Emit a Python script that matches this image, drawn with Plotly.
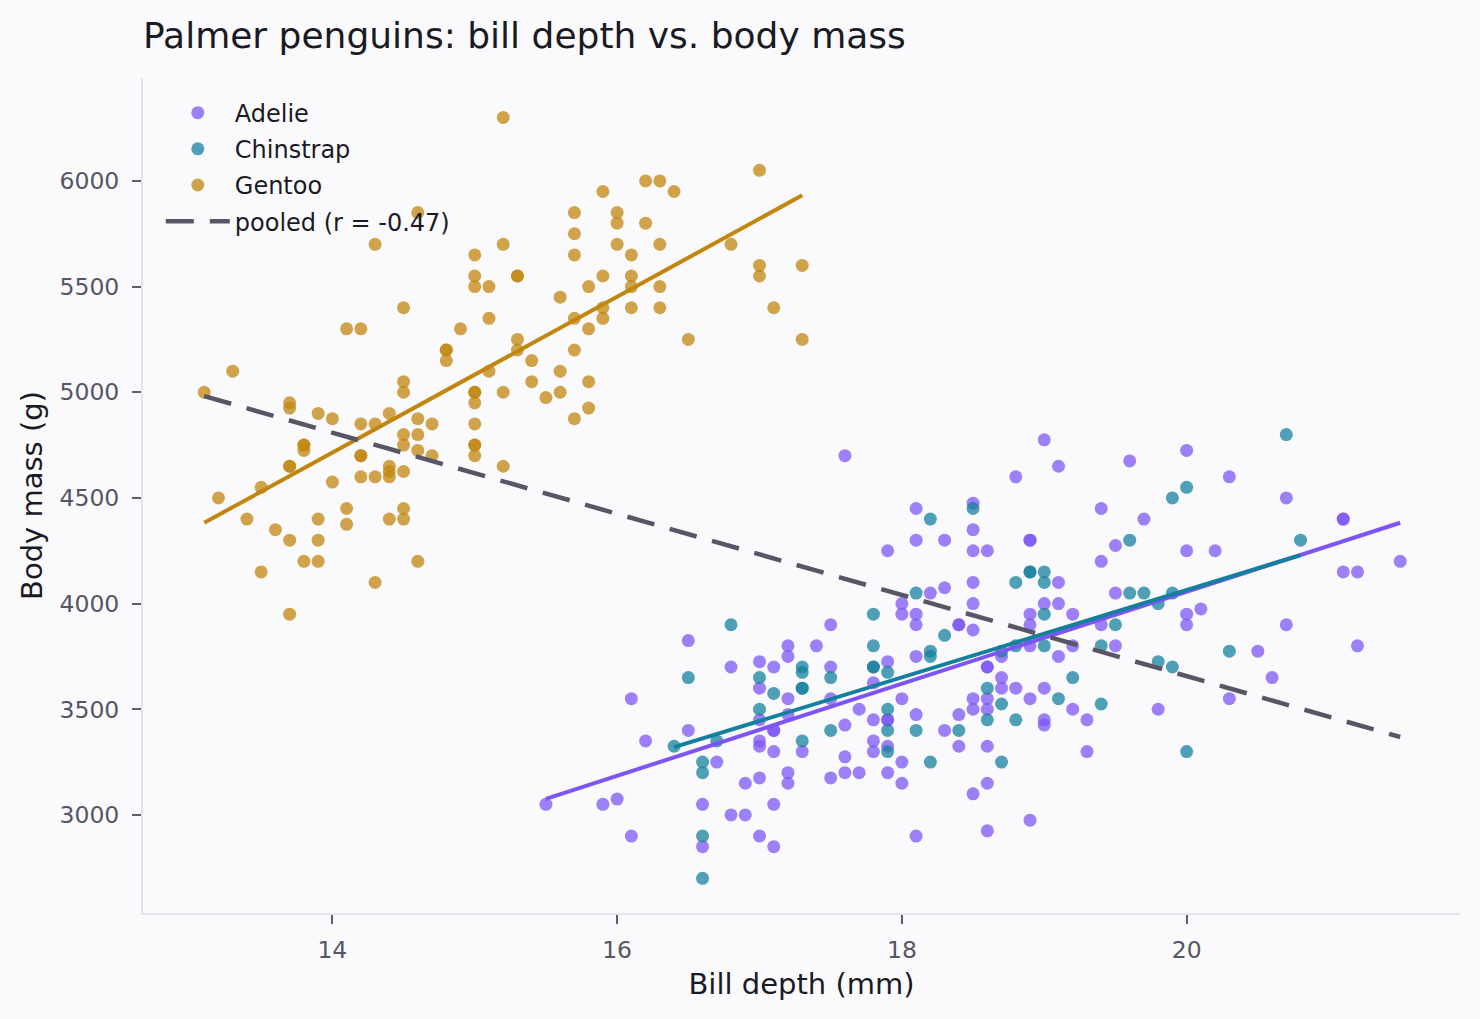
import numpy as np
import plotly.graph_objects as go

# ---------------- data ----------------
species = ["Adelie", "Chinstrap", "Gentoo"]

adelie_depth = [16.5, 17.2, 17.4, 17.5, 16.8, 17.0, 17.1, 17.2, 17.0, 17.2,
                16.1, 17.0, 17.2, 17.1, 17.1, 16.5, 16.2, 17.0, 17.0, 17.1,
                17.3, 16.7, 17.0, 16.9, 17.2, 17.2, 15.5, 15.9, 16.0, 16.6,
                17.1, 16.8, 16.9, 16.1, 16.6, 17.0, 17.1,
                17.6, 19.0, 19.1, 18.8, 18.1, 18.5, 18.5, 18.1, 18.3, 18.9,
                18.9, 17.9, 18.5, 18.6, 19.4, 19.5, 19.4, 19.1, 18.5, 18.3,
                18.2, 18.0, 18.0, 18.1, 18.1, 18.4, 18.4, 18.5, 18.5, 19.0,
                19.1, 18.9, 18.9, 19.2, 19.5, 19.4, 17.9, 18.1, 18.9, 19.2,
                19.5, 19.1,
                17.5, 17.8, 18.6, 18.6, 18.7, 18.7, 18.7, 18.8, 19.0, 17.5,
                18.0, 18.5, 18.6, 18.9, 17.7, 17.9, 17.9, 17.8, 18.1, 18.4,
                18.5, 18.6, 19.0, 19.0, 19.2, 19.3, 17.6, 18.3, 17.8, 17.9,
                17.8, 18.4, 18.6, 18.0, 19.3, 17.6, 17.5, 17.6, 17.7, 17.9,
                18.0, 18.6, 18.5, 18.9, 18.6, 18.1,
                19.6, 20.0, 20.3, 20.7, 19.7, 21.1, 21.1, 20.0, 20.2, 21.5,
                21.1, 21.2, 20.0, 20.0, 20.1, 20.7, 20.5, 21.2, 20.6, 20.3,
                19.8]
adelie_mass = [3825, 3800, 3800, 3900, 3700, 3725, 3700, 3750, 3600, 3550,
               3550, 3450, 3475, 3400, 3400, 3400, 3350, 3350, 3325, 3300,
               3300, 3250, 3175, 3150, 3200, 3150, 3050, 3050, 3075, 3050,
               3050, 3000, 3000, 2900, 2850, 2900, 2850,
               4700, 4775, 4650, 4600, 4450, 4475, 4350, 4300, 4300, 4300,
               4300, 4250, 4250, 4250, 4450, 4275, 4200, 4100, 4100, 4075,
               4050, 4000, 3950, 3950, 3900, 3900, 3900, 4000, 3875, 4000,
               4000, 3950, 3900, 3950, 4050, 3900, 3725, 3750, 3800, 3800,
               3800, 3750,
               3700, 3625, 3700, 3700, 3750, 3650, 3600, 3600, 3600, 3550,
               3550, 3550, 3550, 3550, 3500, 3450, 3450, 3450, 3475, 3475,
               3500, 3500, 3450, 3425, 3500, 3450, 3425, 3400, 3350, 3325,
               3300, 3325, 3325, 3250, 3300, 3275, 3175, 3200, 3200, 3200,
               3150, 3150, 3100, 2975, 2925, 2900,
               4675, 4725, 4600, 4500, 4400, 4400, 4400, 4250, 4250, 4200,
               4150, 4150, 3950, 3900, 3975, 3900, 3775, 3800, 3650, 3550,
               3500]

chinstrap_depth = [16.8, 16.5, 17.0, 17.1, 17.0, 17.3, 17.3, 17.3, 17.3, 16.4,
                   16.7, 17.3, 16.6, 16.6, 16.6, 16.6, 17.5, 17.5,
                   18.2, 18.5, 18.9, 18.9, 19.0, 18.8, 19.0, 18.1, 17.8, 18.3,
                   19.0, 19.5, 17.8, 18.2, 18.2, 18.8, 19.0, 19.4, 18.7,
                   17.8, 17.8, 17.9, 18.6, 19.2, 19.1, 18.7, 19.4, 17.9, 18.6,
                   18.8, 17.9, 18.1, 18.4, 17.9, 18.2, 18.7,
                   20.7, 19.9, 20.0, 19.6, 20.8, 19.6, 19.7, 19.9, 19.8, 20.3,
                   19.8, 19.9, 20.0]
chinstrap_mass = [3900, 3650, 3650, 3575, 3500, 3700, 3675, 3600, 3600, 3325,
                  3350, 3350, 3250, 3200, 2900, 2700, 3650, 3400,
                  4400, 4450, 4150, 4150, 4150, 4100, 4100, 4050, 3950, 3850,
                  3950, 3900, 3800, 3775, 3750, 3800, 3800, 3800, 3775,
                  3700, 3700, 3675, 3600, 3650, 3550, 3525, 3525, 3500, 3450,
                  3450, 3400, 3400, 3400, 3300, 3250, 3250,
                  4800, 4500, 4550, 4300, 4300, 4050, 4050, 4050, 4000, 3775,
                  3725, 3700, 3300]

gentoo_depth = [15.2, 14.6, 14.3, 15.2, 15.0, 15.0, 15.0, 15.1, 14.5, 14.1,
                14.2, 14.9, 15.1, 14.8, 14.8, 14.8,
                15.3, 15.3, 17.0, 16.2, 16.3, 16.4, 15.9, 15.7, 16.0, 16.0,
                16.2, 15.7, 16.0, 16.3, 16.8, 15.7, 16.1, 17.0, 17.0, 17.3,
                15.9, 16.1, 15.8, 16.1, 16.3, 15.6, 15.7, 15.9, 15.9, 16.1,
                16.3, 15.8, 17.1, 15.3, 15.3, 15.4, 15.7, 16.5, 17.3,
                13.3, 13.1, 13.7, 13.7, 13.9, 14.0, 13.8, 13.8, 13.8, 13.7,
                13.7, 13.5, 13.2, 13.4, 13.6, 13.7, 13.9, 13.9, 13.8, 13.9,
                13.5, 13.7, 14.0, 14.1, 14.1, 14.2, 14.3, 14.2, 14.2, 14.2,
                14.3, 14.4, 14.4, 14.4, 14.4, 14.5, 14.5, 14.5, 14.5, 14.5,
                14.6, 14.7, 14.6, 14.6, 14.7, 14.5, 14.5, 14.4, 14.3, 14.6,
                15.0, 15.0, 15.0, 15.0, 15.0, 15.0, 15.0, 15.1, 15.2, 15.2,
                15.6, 15.4, 15.8, 15.5, 15.6, 15.8, 15.7]
gentoo_mass = [6300, 5850, 5700, 5700, 5650, 5550, 5500, 5500, 5400, 5300,
               5300, 5300, 5350, 5200, 5200, 5150,
               5550, 5550, 6050, 6000, 6000, 5950, 5950, 5850, 5850, 5800,
               5800, 5750, 5700, 5700, 5700, 5650, 5650, 5600, 5550, 5600,
               5550, 5550, 5500, 5500, 5500, 5450, 5350, 5400, 5350, 5400,
               5400, 5300, 5400, 5250, 5200, 5150, 5200, 5250, 5250,
               5100, 5000, 4950, 4925, 4900, 4875, 4750, 4750, 4725, 4650,
               4650, 4550, 4500, 4400, 4350, 4300, 4400, 4300, 4200, 4200,
               4150, 3950, 4575, 4450, 4375, 4850, 4850, 4700, 4700, 4600,
               4600, 4900, 4650, 4625, 4600, 5050, 5000, 4800, 4750, 4625,
               4875, 4850, 4800, 4725, 4700, 4450, 4400, 4400, 4100, 4200,
               5000, 5000, 4950, 4850, 4750, 4750, 4700, 5100, 5000, 4650,
               5100, 5050, 5050, 4975, 5000, 4925, 4875]

x_ticks = [14, 16, 18, 20]
y_ticks = [3000, 3500, 4000, 4500, 5000, 5500, 6000]
pooled_label = "pooled (r = -0.47)"

# ---------------- styling ----------------
colors = {"Adelie": "#7E55F5", "Chinstrap": "#15809E", "Gentoo": "#C2860F"}
data = {
    "Adelie": (adelie_depth, adelie_mass),
    "Chinstrap": (chinstrap_depth, chinstrap_mass),
    "Gentoo": (gentoo_depth, gentoo_mass),
}
FONT = "DejaVu Sans"
BG = "#FAFAFD"

fig = go.Figure()

for sp in species:
    xs, ys = data[sp]
    fig.add_trace(go.Scatter(
        x=xs, y=ys, mode="markers", name=sp, legendgroup=sp,
        marker=dict(color=colors[sp], size=13, opacity=0.75, line=dict(width=0)),
    ))

for sp in species:
    xs, ys = np.array(data[sp][0]), np.array(data[sp][1])
    m, b = np.polyfit(xs, ys, 1)
    xl = np.array([xs.min(), xs.max()])
    fig.add_trace(go.Scatter(
        x=xl, y=m * xl + b, mode="lines", showlegend=False, legendgroup=sp + "_fit",
        line=dict(color=colors[sp], width=4), hoverinfo="skip",
    ))

all_x = np.concatenate([np.array(data[s][0]) for s in species])
all_y = np.concatenate([np.array(data[s][1]) for s in species])
m, b = np.polyfit(all_x, all_y, 1)
xl = np.array([all_x.min(), all_x.max()])
fig.add_trace(go.Scatter(
    x=xl, y=m * xl + b, mode="lines", name=pooled_label, legendgroup="pooled",
    line=dict(color="#5A5566", width=4.5, dash="28px,16px"),
))

axis_common = dict(
    showgrid=False, zeroline=False, showline=True, linecolor="#E3E3EA", linewidth=2,
    ticks="outside", ticklen=9, tickwidth=2, tickcolor="#5E5E6C",
    tickfont=dict(family=FONT, size=23.5, color="#555566"),
)

fig.update_layout(
    width=1480, height=1019,
    paper_bgcolor=BG, plot_bgcolor=BG,
    margin=dict(l=143, r=20, t=78, b=106),
    font=dict(family=FONT, color="#1A1A24"),
    title=dict(text="Palmer penguins: bill depth vs. body mass",
               font=dict(family=FONT, size=36, color="#1A1A24"),
               x=143 / 1480, xref="container", xanchor="left",
               y=1 - 35 / 1019, yref="container", yanchor="middle"),
    xaxis=dict(range=[12.67, 21.92], tickvals=x_ticks, ticklabelstandoff=6,
               title=dict(text="Bill depth (mm)", font=dict(family=FONT, size=29, color="#1A1A24"), standoff=10),
               **axis_common),
    yaxis=dict(range=[2536, 6487], tickvals=y_ticks, ticklabelstandoff=8,
               title=dict(text="Body mass (g)", font=dict(family=FONT, size=29, color="#1A1A24"), standoff=8),
               **axis_common),
    legend=dict(x=0.0135, y=0.985, xanchor="left", yanchor="top",
                bgcolor="rgba(0,0,0,0)", font=dict(family=FONT, size=24, color="#1A1A24"),
                traceorder="grouped", tracegroupgap=2, itemwidth=64),
    showlegend=True,
)

fig.write_html("out.html")
